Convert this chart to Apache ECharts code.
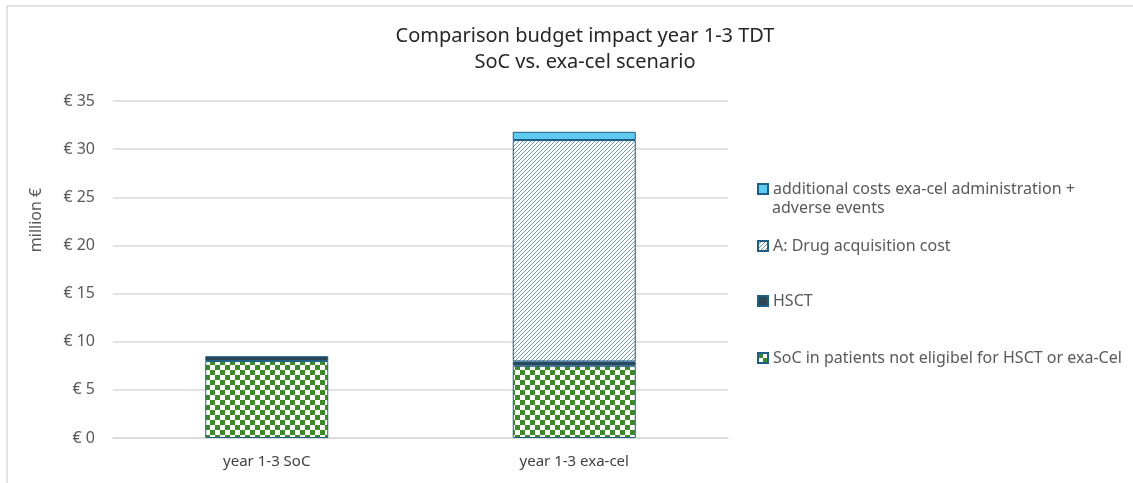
<!DOCTYPE html>
<html>
<head>
<meta charset="utf-8">
<script src="https://cdn.jsdelivr.net/npm/echarts@6/dist/echarts.min.js"></script>
<style>
  html, body { margin: 0; padding: 0; background: #fff; }
  #main { width: 1133px; height: 483px; }
</style>
</head>
<body>
<div id="main"></div>
<script>
// data (million €)
var categories = ['year 1-3 SoC', 'year 1-3 exa-cel'];
var socNotEligible = [8.0, 7.5];
var hsct = [0.5, 0.45];
var drugAcquisition = [null, 23.0];
var additionalCosts = [null, 0.85];
var seriesNames = [
  'SoC in patients not eligibel for HSCT or exa-Cel',
  'HSCT',
  'A: Drug acquisition cost',
  'additional costs exa-cel administration + adverse events'
];

// fill patterns
function checkerPattern() {
  var c = document.createElement('canvas');
  c.width = 10; c.height = 10;
  var ctx = c.getContext('2d');
  ctx.fillStyle = '#ffffff';
  ctx.fillRect(0, 0, 10, 10);
  ctx.fillStyle = '#3b8a27';
  ctx.fillRect(0, 0, 5, 5);
  ctx.fillRect(5, 5, 5, 5);
  return c;
}
function hatchPattern() {
  var c = document.createElement('canvas');
  c.width = 4; c.height = 4;
  var ctx = c.getContext('2d');
  ctx.fillStyle = '#ffffff';
  ctx.fillRect(0, 0, 4, 4);
  ctx.strokeStyle = '#5e8cab';
  ctx.lineWidth = 0.9;
  ctx.beginPath();
  ctx.moveTo(0, 4); ctx.lineTo(4, 0);
  ctx.moveTo(-1, 1); ctx.lineTo(1, -1);
  ctx.moveTo(3, 5); ctx.lineTo(5, 3);
  ctx.stroke();
  return c;
}

var border = '#1f5f85';
var textGrey = '#595959';
var font = 'Noto Sans';

var chart = echarts.init(document.getElementById('main'));

function legendAt(name, top, text) {
  return {
    data: [name],
    orient: 'vertical',
    left: 752,
    top: top,
    icon: 'rect',
    itemWidth: 10,
    itemHeight: 10,
    formatter: text ? function () { return text; } : undefined,
    textStyle: { color: textGrey, fontSize: 16, fontFamily: font }
  };
}

chart.setOption({
  animation: false,
  title: {
    text: 'Comparison budget impact year 1-3 TDT\nSoC vs. exa-cel scenario',
    left: 580,
    top: 18,
    textAlign: 'center',
    textStyle: { color: '#262626', fontSize: 20, fontWeight: 'normal', fontFamily: font, lineHeight: 26 }
  },
  grid: { left: 113, right: 405, top: 101, bottom: 45 },
  legend: [
    legendAt(seriesNames[3], 176, 'additional costs exa-cel administration +'),
    legendAt(seriesNames[2], 233),
    legendAt(seriesNames[1], 288),
    legendAt(seriesNames[0], 345)
  ],
  xAxis: {
    type: 'category',
    data: categories,
    axisTick: { show: false },
    axisLine: { lineStyle: { color: '#d9d9d9', width: 1.5 } },
    axisLabel: { color: '#404040', fontSize: 15, fontFamily: font, margin: 16 }
  },
  yAxis: {
    type: 'value',
    min: 0,
    max: 35,
    interval: 5,
    axisLine: { show: false },
    axisTick: { show: false },
    splitLine: { lineStyle: { color: '#d9d9d9', width: 1.5 } },
    axisLabel: {
      color: textGrey, fontSize: 16, fontFamily: font, margin: 18,
      formatter: function (v) { return '€ ' + v; }
    }
  },
  graphic: [
    {
      type: 'rect',
      shape: { x: 7, y: 6, width: 1300, height: 700 },
      style: { fill: 'none', stroke: '#d9d9d9', lineWidth: 1.5 },
      silent: true
    },
    {
      type: 'text',
      x: 36, y: 220,
      rotation: Math.PI / 2,
      style: { text: 'million €', fill: textGrey, fontSize: 16, fontFamily: font, align: 'center', verticalAlign: 'middle' }
    },
    {
      type: 'text',
      x: 772, y: 208,
      style: { text: 'adverse events', fill: textGrey, fontSize: 16, fontFamily: font, align: 'left', verticalAlign: 'middle' }
    }
  ],
  series: [
    {
      name: seriesNames[0], type: 'bar', stack: 'total', barWidth: '40%',
      itemStyle: { color: { image: checkerPattern(), repeat: 'repeat' }, borderColor: border, borderWidth: 1 },
      data: socNotEligible
    },
    {
      name: seriesNames[1], type: 'bar', stack: 'total',
      itemStyle: { color: '#2d4454', borderColor: border, borderWidth: 1 },
      data: hsct
    },
    {
      name: seriesNames[2], type: 'bar', stack: 'total',
      itemStyle: { color: { image: hatchPattern(), repeat: 'repeat' }, borderColor: border, borderWidth: 1 },
      data: drugAcquisition
    },
    {
      name: seriesNames[3], type: 'bar', stack: 'total',
      itemStyle: { color: '#5fcaf2', borderColor: border, borderWidth: 1 },
      data: additionalCosts
    }
  ]
});
</script>
</body>
</html>
